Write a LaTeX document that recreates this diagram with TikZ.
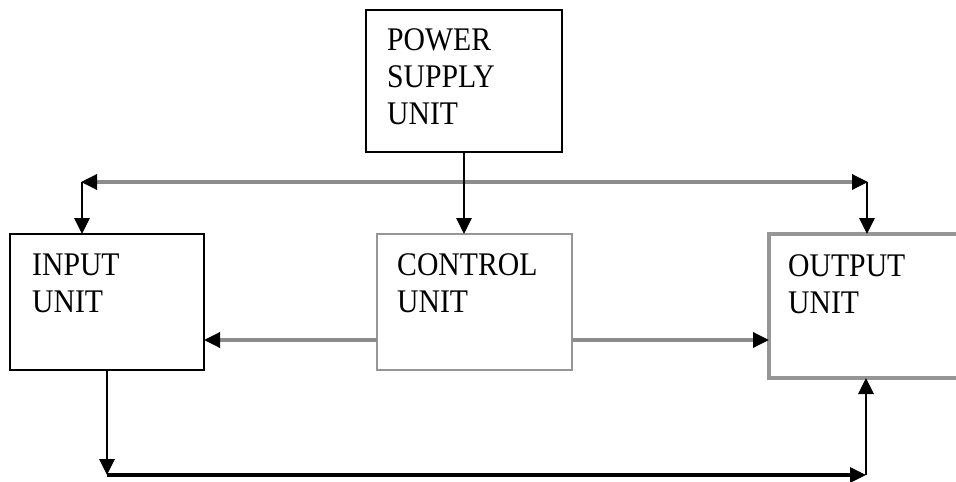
\documentclass[tikz,border=0pt]{standalone}
\usepackage{fontspec}
\setmainfont[FakeStretch=0.9]{Liberation Serif}
\usetikzlibrary{arrows.meta}
\definecolor{linegray}{RGB}{140,140,140}
\definecolor{boxgray}{RGB}{150,150,150}
\begin{document}
\begin{tikzpicture}[x=1pt,y=-1pt,
  box/.style={draw, anchor=north west, inner sep=0pt, outer sep=0pt},
  lbl/.style={anchor=base west, align=left, inner sep=0pt, font=\fontsize{33}{37}\selectfont},
  blk/.style={line width=2.8pt, black, -{Triangle[length=16pt,width=15pt]}},
  gry/.style={line width=3.4pt, linegray}
]
\clip (0,0) rectangle (956,482);
\fill[white] (0,0) rectangle (956,482);
% boxes
\node[box, line width=2.4pt, minimum width=196pt, minimum height=142pt] (psu) at (366,10) {};
\node[box, line width=2.4pt, minimum width=194pt, minimum height=136pt] (inp) at (10,234) {};
\node[box, line width=2.8pt, draw=boxgray, minimum width=195pt, minimum height=136pt] (ctrl) at (377,234) {};
\node[box, line width=3.2pt, draw=boxgray, minimum width=200pt, minimum height=144pt] (outp) at (769,234) {};
% labels (anchored at the baseline of the last line)
\node[lbl] (tpsu) at (387,124) {POWER\\SUPPLY\\UNIT};
\node[lbl] (tinp) at (32,312) {INPUT\\UNIT};
\node[lbl] (tctrl) at (397,312) {CONTROL\\UNIT};
\node[lbl] (toutp) at (788,313) {OUTPUT\\UNIT};
% coordinates
\coordinate (tl) at (82,182);
\coordinate (tr) at (867,182);
\coordinate (bl) at (107,475);
\coordinate (br) at (866,475);
% top bus
\draw[gry, {Triangle[length=16pt,width=15pt,fill=black,color=black]}-{Triangle[length=16pt,width=15pt,fill=black,color=black]}, shorten <=-1pt, shorten >=-1pt] (tl) -- (tr);
\draw[blk] (tl) -- (tl |- inp.north);
\draw[blk] (tr) -- (tr |- outp.north);
\draw[blk] (psu.south) -- (psu.south |- ctrl.north);
% control outputs
\draw[gry, -{Triangle[length=16pt,width=15pt,fill=black,color=black]}] (ctrl.west |- 0,340) -- (inp.east |- 0,340);
\draw[gry, -{Triangle[length=16pt,width=15pt,fill=black,color=black]}] (ctrl.east |- 0,340) -- (outp.west |- 0,340);
% bottom path
\draw[blk] (bl |- inp.south) -- (bl);
\draw[blk, line width=3.2pt] (bl) -- (br);
\draw[blk] (br) -- (br |- outp.south);
\end{tikzpicture}
\end{document}
